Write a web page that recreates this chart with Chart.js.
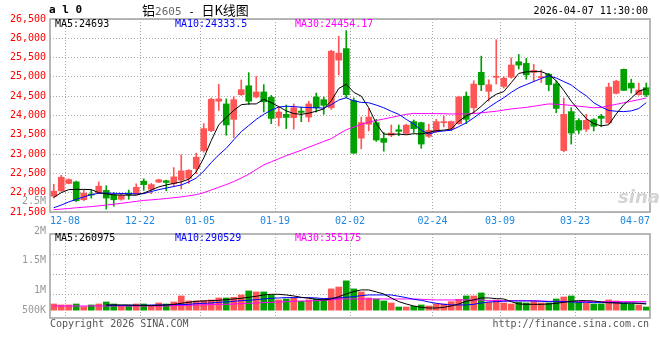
<!DOCTYPE html>
<html>
<head>
<meta charset="utf-8">
<script src="https://cdn.jsdelivr.net/npm/chart.js@4.4.0/dist/chart.umd.min.js"></script>
<style>
  html, body { margin: 0; padding: 0; background: #fff; }
  #wrap { position: relative; width: 660px; height: 360px; overflow: hidden; }
  canvas { position: absolute; left: 0; }
  .t { position: absolute; white-space: nowrap; font: 10px 'DejaVu Sans Mono', monospace; line-height: 12px; }
  .cjk { font-family: 'Noto Sans CJK SC', sans-serif; font-size: 13px; }
</style>
</head>
<body>
<div id="wrap">
  <canvas id="kline" width="660" height="232" style="top:0"></canvas>
  <canvas id="vol" width="660" height="104" style="top:224px"></canvas>

  <div class="t" style="left:49px;top:4px;font-weight:bold;font-size:11px;">a l 0</div>
  <div class="t" style="left:142px;top:1px;line-height:17px;"><span class="cjk">铝</span><span style="color:#666;font-size:11px;">2605</span><span style="font-size:11px;"> - </span><span class="cjk">日K线图</span></div>
  <div class="t" style="right:12px;top:5px;">2026-04-07 11:30:00</div>

  <div class="t" style="left:55px;top:17.5px;color:#000;">MA5:24693</div>
  <div class="t" style="left:175px;top:17.5px;color:#0000ff;">MA10:24333.5</div>
  <div class="t" style="left:295px;top:17.5px;color:#ff00ff;">MA30:24454.17</div>

  <div class="t" style="left:55px;top:232px;color:#000;">MA5:260975</div>
  <div class="t" style="left:175px;top:232px;color:#0000ff;">MA10:290529</div>
  <div class="t" style="left:295px;top:232px;color:#ff00ff;">MA30:355175</div>

  <div class="t" style="right:614px;top:194.5px;color:#999;">2.5M</div>
  <div class="t" style="right:614px;top:225px;color:#999;">2M</div>

  <div class="t" style="left:618px;top:186px;font:italic bold 18px 'DejaVu Sans',sans-serif;color:#d4d4d4;">sina</div>

  <div class="t" style="left:50px;top:317.5px;color:#555;">Copyright 2026 SINA.COM</div>
  <div class="t" style="right:11px;top:318px;color:#555;">http://finance.sina.com.cn</div>
</div>
<script>
// candle slots, one per trading day
const days = [...Array(80).keys()];
const tickPos = [2, 12, 20, 30, 40, 51, 60, 70, 78];
const tickText = ['12-08', '12-22', '01-05', '01-19', '02-02', '02-24', '03-09', '03-23', '04-07'];
const gridPos = [2, 12, 20, 30, 40, 51, 60, 70];

const open = [21910,22050,22240,22280,21820,21960,22000,22060,21940,21830,
  21990,21960,22300,22090,22275,22310,22240,22325,22370,22625,
  23090,23605,24370,24300,23900,24540,24770,24480,24610,24470,
  23945,24030,23945,24115,23960,24480,24410,24200,25435,25733,
  24387,23415,23775,23815,23405,23490,23630,23535,23840,23815,
  23460,23585,23815,23663,23790,24500,24200,25120,24626,24990,
  24753,24992,25392,25350,25120,24980,25070,24820,23092,24100,
  23870,23646,23893,23978,23808,24574,25196,24838,24540,24720];
const close = [22040,22400,22340,21790,21990,21940,22170,21860,21820,21930,
  21950,22140,22210,22210,22335,22265,22410,22565,22580,22920,
  23660,24420,24430,23755,24410,24670,24370,24610,24355,23925,
  24090,23950,24200,24080,24300,24200,24265,25665,25615,24540,
  23024,23815,23960,23365,23305,23545,23590,23750,23660,23260,
  23620,23840,23835,23842,24480,23900,24813,24796,24796,25010,
  24966,25307,25307,25052,25170,25000,24800,24183,24029,23545,
  23620,23876,23722,23927,24736,24890,24651,24711,24660,24532];
const high = [22220,22450,22360,22300,22070,22080,22280,22180,22000,21985,
  22070,22230,22360,22240,22350,22325,22650,22980,22600,23025,
  23790,24455,24810,24430,24490,24920,25110,25010,24800,24520,
  24215,24270,24300,24215,24370,24580,24480,25690,26050,26200,
  24455,23960,24180,23900,23560,23755,23755,23775,23885,23830,
  23775,23900,23985,23859,24500,24610,24900,25537,24924,25963,
  25009,25495,25580,25478,25324,25180,25095,24900,24450,24200,
  23920,24030,23920,24030,24838,24915,25205,24940,24840,24840];
const low = [21860,22030,22230,21770,21790,21860,21980,21575,21650,21805,
  21830,21950,22060,21970,22260,22050,22155,22095,22240,22495,
  23050,23580,24130,23490,23430,24520,24285,24455,24090,23790,
  23730,23660,23645,23840,23840,24090,24030,24160,25050,24455,
  23020,23135,23600,23330,23075,23450,23475,23520,23560,23150,
  23430,23560,23705,23603,23775,23790,24070,24643,24370,24813,
  24711,24966,25205,24940,24880,24855,24640,24070,23060,23260,
  23535,23586,23600,23714,23790,24557,24643,24583,24525,24490];

const ma5 = [21880,22000,22080,22085,22085,22080,22000,21970,21945,21940,
  21935,21935,21990,22070,22150,22200,22240,22280,22350,22540,
  22900,23350,23760,23950,24130,24280,24300,24300,24420,24330,
  24230,24120,24050,24030,24060,24110,24170,24380,24700,24810,
  24600,24500,24200,23790,23520,23510,23520,23500,23530,23520,
  23560,23610,23620,23650,23850,23990,24080,24240,24420,24550,
  24620,24850,25090,25130,25137,25137,25060,24900,24650,24370,
  24140,23920,23790,23730,23760,24040,24280,24450,24630,24693];
const ma10 = [21610,21680,21760,21830,21890,21950,21985,21990,21985,21980,
  21975,21970,21975,22030,22080,22120,22160,22200,22280,22380,
  22560,22780,22980,23150,23370,23580,23740,23900,24030,24140,
  24220,24240,24230,24215,24205,24200,24190,24280,24400,24460,
  24380,24340,24330,24270,24200,24110,24030,23900,23780,23620,
  23520,23580,23600,23620,23710,23810,23940,24080,24210,24340,
  24460,24600,24720,24800,24880,24960,25030,24970,24880,24790,
  24640,24510,24330,24220,24130,24110,24100,24120,24180,24333];
const ma30 = [21560,21575,21590,21610,21625,21640,21660,21680,21700,21725,
  21750,21775,21800,21815,21830,21850,21870,21890,21920,21950,
  22000,22070,22140,22210,22290,22380,22480,22600,22720,22800,
  22880,22960,23030,23100,23180,23250,23330,23400,23520,23630,
  23700,23770,23830,23870,23910,23950,23990,24030,24055,24050,
  24050,24050,24045,24040,24040,24040,24050,24070,24090,24110,
  24140,24170,24190,24210,24240,24270,24300,24290,24280,24260,
  24240,24220,24200,24210,24250,24290,24330,24370,24410,24454];

// volume, in thousands of lots
const vol = [262,224,224,262,157,224,262,341,262,184,
  184,262,262,210,302,262,341,578,381,381,
  394,421,499,499,525,617,775,735,735,617,
  421,459,525,368,421,459,459,854,929,1170,
  854,735,499,459,381,302,144,144,170,224,
  184,262,262,354,446,578,578,696,329,421,
  302,262,329,302,354,302,302,459,538,578,
  329,302,262,262,421,381,302,262,224,144];
const vma5 = [null,null,null,null,null,null,null,224,224,224,
  224,210,210,197,210,224,249,289,329,368,
  381,394,407,433,459,486,525,565,617,643,
  643,617,578,525,486,446,421,459,551,656,
  748,814,814,735,656,499,354,262,184,132,
  105,105,132,184,262,368,421,499,499,473,
  459,354,262,249,249,249,262,289,329,368,
  394,394,381,341,315,302,289,300,285,261];
const vma10 = [null,null,null,null,null,null,null,210,210,210,
  210,210,210,224,224,224,237,237,249,276,
  289,302,329,341,368,394,407,433,459,486,
  499,512,512,512,512,499,473,486,499,525,
  551,591,617,617,617,617,565,512,446,407,
  341,289,249,224,224,224,249,302,341,354,
  368,381,381,381,381,368,354,354,354,341,
  329,329,315,315,315,315,302,300,296,291];
const vma30 = [184,184,184,184,184,184,184,184,184,184,
  184,184,184,184,184,184,197,210,210,224,
  224,237,249,249,262,276,289,302,315,329,
  341,354,368,381,381,394,407,421,459,459,
  459,459,459,459,459,459,459,459,459,446,
  433,421,421,421,421,421,421,421,394,394,
  394,394,394,394,394,381,368,368,368,362,
  360,358,358,357,357,356,356,355,355,355];

const volTickAt = [0, 788, 1970];
const volTickText = ['500K', '1M', '1.5M'];
const volGridAt = [619, 1407, 2195];

const RED = '#ff5555';
const GREEN = '#00a000';
const GRID = '#a8a8a8';

Chart.defaults.font.family = "'DejaVu Sans Mono', monospace";
Chart.defaults.font.size = 10;

const barColor = ctx => close[ctx.dataIndex] >= open[ctx.dataIndex] ? RED : GREEN;

const frame = {
  id: 'frame',
  afterDraw(chart) {
    const { ctx, chartArea: a } = chart;
    ctx.save();
    ctx.strokeStyle = '#a0a0a0';
    ctx.lineWidth = 1.5;
    ctx.strokeRect(a.left, a.top, a.right - a.left, a.bottom - a.top);
    ctx.restore();
  }
};

function maLine(data, color) {
  return { type: 'line', data: data, borderColor: color, borderWidth: 1, pointRadius: 0, fill: false, tension: 0, order: 0 };
}

function xScale(showTicks) {
  return {
    grid: {
      offset: true,
      drawTicks: false,
      color: ctx => gridPos.includes(ctx.index) ? GRID : 'rgba(0,0,0,0)'
    },
    border: { display: false, dash: [1, 2] },
    ticks: {
      display: showTicks,
      autoSkip: false,
      maxRotation: 0,
      minRotation: 0,
      padding: 3,
      labelOffset: -3.75,
      color: '#2288dd',
      callback: (v, i) => {
        const k = tickPos.indexOf(i);
        return k >= 0 ? tickText[k] : '';
      }
    },
    afterFit: s => { s.height = showTicks ? 20 : 0; }
  };
}

new Chart(document.getElementById('kline'), {
  type: 'bar',
  data: {
    labels: days,
    datasets: [
      maLine(ma5, '#000000'),
      maLine(ma10, '#0000ff'),
      maLine(ma30, '#ff00ff'),
      {
        data: open.map((o, i) => [o, close[i]]),
        backgroundColor: barColor,
        barThickness: 6,
        minBarLength: 1,
        grouped: false,
        order: 1
      },
      {
        data: low.map((l, i) => [l, high[i]]),
        backgroundColor: barColor,
        barThickness: 1,
        grouped: false,
        order: 2
      }
    ]
  },
  options: {
    responsive: false,
    animation: false,
    devicePixelRatio: 1,
    layout: { padding: { top: 19, right: 10, left: 0, bottom: 0 } },
    plugins: { legend: { display: false }, tooltip: { enabled: false } },
    scales: {
      x: xScale(true),
      y: {
        min: 21500,
        max: 26500,
        ticks: { stepSize: 500, color: '#ff0000', padding: 4 },
        grid: { drawTicks: false, color: GRID },
        border: { display: false, dash: [1, 2] },
        afterFit: s => { s.width = 50; }
      }
    }
  },
  plugins: [frame]
});

// the y axis keeps 10px above and below for its labels, so the canvas is 10px taller each side
new Chart(document.getElementById('vol'), {
  type: 'bar',
  data: {
    labels: days,
    datasets: [
      maLine(vma5, '#000000'),
      maLine(vma10, '#0000ff'),
      maLine(vma30, '#ff00ff'),
      {
        data: vol,
        backgroundColor: barColor,
        barThickness: 6,
        order: 1
      }
    ]
  },
  options: {
    responsive: false,
    animation: false,
    devicePixelRatio: 1,
    layout: { padding: { top: 0, right: 10, left: 0, bottom: 0 } },
    plugins: { legend: { display: false }, tooltip: { enabled: false } },
    scales: {
      x: xScale(false),
      y: {
        min: -288,
        max: 3010,
        afterBuildTicks: s => {
          s.ticks = [...volTickAt, ...volGridAt].sort((a, b) => a - b).map(v => ({ value: v }));
        },
        ticks: {
          autoSkip: false,
          color: '#999999',
          padding: 4,
          callback: v => {
            const k = volTickAt.indexOf(v);
            return k >= 0 ? volTickText[k] : '';
          }
        },
        grid: {
          drawTicks: false,
          color: ctx => (ctx.tick && volGridAt.includes(ctx.tick.value)) ? GRID : 'rgba(0,0,0,0)'
        },
        border: { display: false, dash: [1, 2] },
        afterFit: s => { s.width = 50; }
      }
    }
  },
  plugins: [frame]
});
</script>
</body>
</html>
